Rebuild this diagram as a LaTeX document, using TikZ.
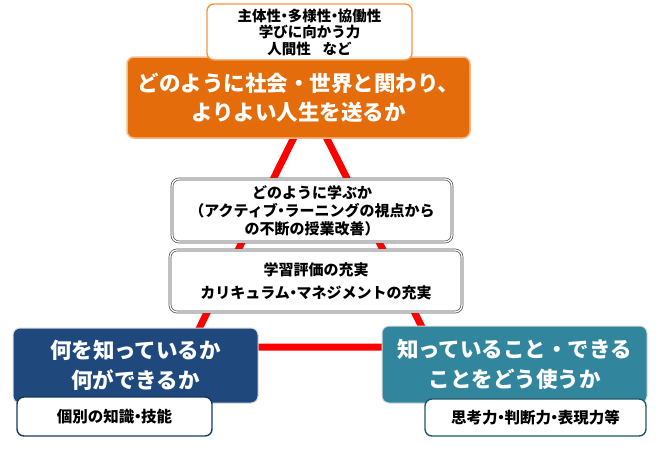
\documentclass[tikz,border=0pt]{standalone}
\usepackage{fontspec}
\setmainfont{Noto Sans CJK JP}
\definecolor{lifeorange}{HTML}{E46C0A}
\definecolor{lifeedge}{HTML}{F6B98A}
\definecolor{tagorange}{HTML}{F79646}
\definecolor{knowblue}{HTML}{1F497D}
\definecolor{knowedge}{HTML}{17375E}
\definecolor{useteal}{HTML}{31859C}
\definecolor{useedge}{HTML}{215968}
\newcommand{\dt}{\hbox to 0.45em{\hss ・\hss}}

\begin{document}
\begin{tikzpicture}[x=1pt,y=-1pt,
        box/.style={rounded corners=7pt,inner sep=0pt,outer sep=0pt,align=center},
        big/.style={box,text=white,font=\bfseries\fontsize{21.5}{29.5}\selectfont},
        tag/.style={box,fill=white,line width=1.4pt,font=\bfseries\fontsize{15.5}{18}\selectfont},
        mid/.style={box,fill=white,draw=black!70,double=white,double distance=1.3pt,line width=0.7pt}]
            \useasboundingbox (0,0) rectangle (666,453);

            \coordinate (apex) at (310,105);
            \coordinate (knowcorner) at (190,347);
            \coordinate (usecorner) at (432,347);
            \draw[red,line width=7pt] (apex) -- (knowcorner) -- (usecorner) -- cycle;

            \node[big,fill=lifeorange,draw=lifeedge,line width=1.5pt,minimum width=343pt,minimum height=81pt] (life) at (298.5,97.5) {どのように社会・世界と関わり、\\よりよい人生を送るか};
            \node[tag,draw=tagorange,minimum width=205pt,minimum height=56pt,font=\bfseries\fontsize{14.5}{16.5}\selectfont] (lifetag) at (309.5,32) {主体性\dt 多様性\dt 協働性\\学びに向かう力\\人間性\hspace{0.8em}など};

            \node[mid,minimum width=280pt,minimum height=63pt,font=\bfseries\fontsize{15}{18}\selectfont] (learn) at (312,210.5) {どのように学ぶか\\（アクティブ\dt ラーニングの視点から\\の不断の授業改善）};
            \node[mid,minimum width=292pt,minimum height=62pt,font=\bfseries\fontsize{15}{23}\selectfont] (manage) at (316,281) {学習評価の充実\\カリキュラム\dt マネジメントの充実};

            \node[big,fill=knowblue,draw=black!15,line width=1pt,minimum width=245pt,minimum height=75pt] (know) at (135.5,365.5) {何を知っているか\\何ができるか};
            \node[tag,draw=knowedge,minimum width=195pt,minimum height=39pt] (knowtag) at (114.5,416.5) {個別の知識\dt 技能};

            \node[big,fill=useteal,draw=black!15,line width=1pt,minimum width=265pt,minimum height=77pt] (use) at (514.5,364.5) {知っていること・できる\\ことをどう使うか};
            \node[tag,draw=useedge,minimum width=221pt,minimum height=37pt] (usetag) at (535.5,417.5) {思考力\dt 判断力\dt 表現力等};
        \end{tikzpicture}
\end{document}
